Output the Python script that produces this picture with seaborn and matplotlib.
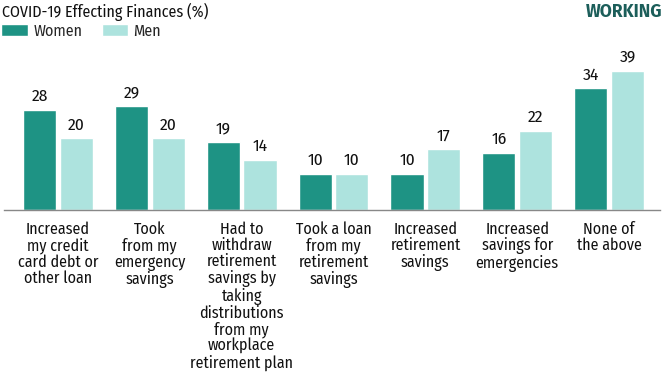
import matplotlib
matplotlib.use("Agg")
import matplotlib.pyplot as plt
import seaborn as sns
import pandas as pd
from matplotlib.patches import Patch

categories = [
    "Increased\nmy credit\ncard debt or\nother loan",
    "Took\nfrom my\nemergency\nsavings",
    "Had to\nwithdraw\nretirement\nsavings by\ntaking\ndistributions\nfrom my\nworkplace\nretirement plan",
    "Took a loan\nfrom my\nretirement\nsavings",
    "Increased\nretirement\nsavings",
    "Increased\nsavings for\nemergencies",
    "None of\nthe above",
]
women = [28, 29, 19, 10, 10, 16, 34]
men = [20, 20, 14, 10, 17, 22, 39]
series = ["Women", "Men"]
colors = ["#1e9384", "#ade3de"]

sns.set_theme(style="white")
plt.rcParams["font.family"] = ["Fira Sans Condensed", "DejaVu Sans"]

df = pd.DataFrame({
    "cat": categories * 2,
    "val": women + men,
    "who": ["Women"] * 7 + ["Men"] * 7,
})

fig = plt.figure(figsize=(6.67, 3.76), dpi=100)
ax = fig.add_axes([4 / 667, 1 - 210 / 376, 656 / 667, 143 / 376])
sns.barplot(data=df, x="cat", y="val", hue="who", hue_order=series,
            palette=colors, width=0.8, gap=0.1, ax=ax, legend=False,
            saturation=1, errorbar=None)
ax.set_xlim(-0.587, 6.554)
ax.set_ylim(0, 40)
for c in ax.containers:
    ax.bar_label(c, padding=4, fontsize=12.5, color="#111111", clip_on=False)
for s in ["top", "right", "left"]:
    ax.spines[s].set_visible(False)
ax.spines["bottom"].set_color("#888888")
ax.spines["bottom"].set_linewidth(1)
ax.set_yticks([])
ax.set_xlabel("")
ax.set_ylabel("")
ax.tick_params(axis="x", length=0, pad=8)
ax.set_xticks(range(7))
ax.set_xticklabels(categories, fontsize=11.5, color="#111111", linespacing=1.03, va="top")

fig.text(2 / 667, 1 - 12 / 376, "COVID-19 Effecting Finances (%)", fontsize=11.5,
         color="#111111", va="center", ha="left")
fig.text(662 / 667, 1 - 12 / 376, "WORKING", fontsize=12.5, fontweight="bold",
         color="#1c5e5a", va="center", ha="right", family=["Fira Sans", "DejaVu Sans"])
handles = [Patch(facecolor=colors[0]), Patch(facecolor=colors[1])]
fig.legend(handles, series, loc="center left", bbox_to_anchor=(-5 / 667, 1 - 31 / 376),
           borderaxespad=0, ncol=2, frameon=False, fontsize=11.5, handlelength=1.65,
           handleheight=0.75, handletextpad=0.35, columnspacing=1.2)

fig.savefig("out.png", dpi=100)
